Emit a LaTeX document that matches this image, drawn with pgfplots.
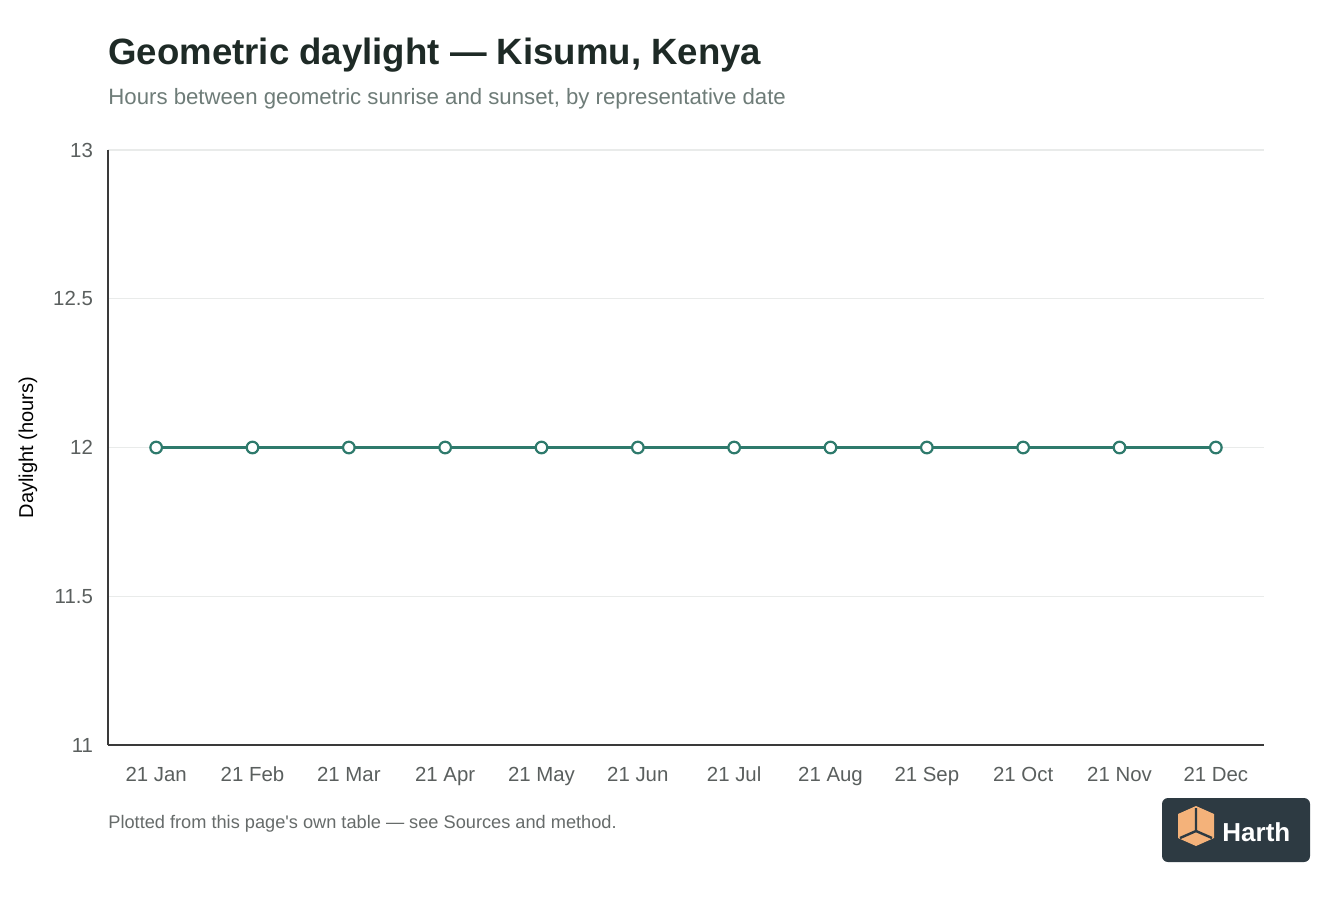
\documentclass[border=0pt]{standalone}
\usepackage{fontspec}
\setmainfont{Liberation Sans}
\usepackage{pgfplots}
\pgfplotsset{compat=1.18}
\definecolor{titlecol}{HTML}{1E2A26}
\definecolor{subcol}{HTML}{6E7C78}
\definecolor{tickcol}{HTML}{5A5F5E}
\definecolor{footcol}{HTML}{666B6A}
\definecolor{linecol}{HTML}{2E7A6C}
\definecolor{gridcol}{HTML}{E9EBEA}
\definecolor{axiscol}{HTML}{3A3A3A}
\definecolor{logobg}{HTML}{2D3A42}
\definecolor{logoor}{HTML}{F4B27A}

\begin{document}
\begin{tikzpicture}[x=0.5pt,y=-0.5pt]
% page: 1344 x 896 px
\path[fill=white] (0,0) rectangle (1344,896);

\node[anchor=base west, inner sep=0pt, text=titlecol, font=\fontsize{18.3}{21}\selectfont\bfseries]
  at (108,64) {Geometric daylight — Kisumu, Kenya};
\node[anchor=base west, inner sep=0pt, text=subcol, font=\fontsize{11.1}{13}\selectfont]
  at (108,104) {Hours between geometric sunrise and sunset, by representative date};

\begin{axis}[
    at={(54pt,-372.5pt)}, anchor=south west,
    scale only axis, width=578pt, height=297.5pt,
    xmin=-0.5, xmax=11.5, ymin=11, ymax=13,
    axis x line*=bottom, axis y line*=left,
    axis line style={axiscol, line width=0.8pt},
    xtick={0,...,11},
    xticklabels={21 Jan,21 Feb,21 Mar,21 Apr,21 May,21 Jun,21 Jul,21 Aug,21 Sep,21 Oct,21 Nov,21 Dec},
    ytick={11,11.5,12,12.5,13},
    yticklabels={11,11.5,12,12.5,13},
    major tick length=0pt,
    ymajorgrids, grid style={gridcol, line width=0.6pt},
    tick label style={text=tickcol, font=\fontsize{10.2}{12}\selectfont},
    xticklabel style={yshift=-7.5pt},
    yticklabel style={xshift=-4pt},
    ylabel={Daylight (hours)},
    ylabel style={font=\fontsize{10.2}{12}\selectfont, text=black},
    every axis y label/.style={at={(-40pt,0.5)}, rotate=90, anchor=center},
    clip=false,
    /pgf/number format/assume math mode=true,
]
\addplot[linecol, line width=1.5pt, mark=*, mark size=2.9pt,
  mark options={fill=white, draw=linecol, line width=1.1pt}] coordinates {
  (0,12) (1,12) (2,12) (3,12) (4,12) (5,12) (6,12) (7,12) (8,12) (9,12) (10,12) (11,12)
};
\end{axis}

\node[anchor=base west, inner sep=0pt, text=footcol, font=\fontsize{9.1}{11}\selectfont]
  at (108,828) {Plotted from this page\textquotesingle s own table — see Sources and method.};

% badge
\fill[logobg, rounded corners=3pt] (1162,798) rectangle (1310,862);
\fill[logoor] (1178,814) -- (1196,806) -- (1214,814) -- (1214,838) -- (1196,846) -- (1178,838) -- cycle;
\draw[logobg, line width=1.2pt] (1196,808) -- (1196,831) (1196,831) -- (1180,838) (1196,831) -- (1212,838);
\node[anchor=base west, inner sep=0pt, text=white, font=\fontsize{13}{15}\selectfont\bfseries]
  at (1222,841) {Harth};
\end{tikzpicture}
\end{document}
